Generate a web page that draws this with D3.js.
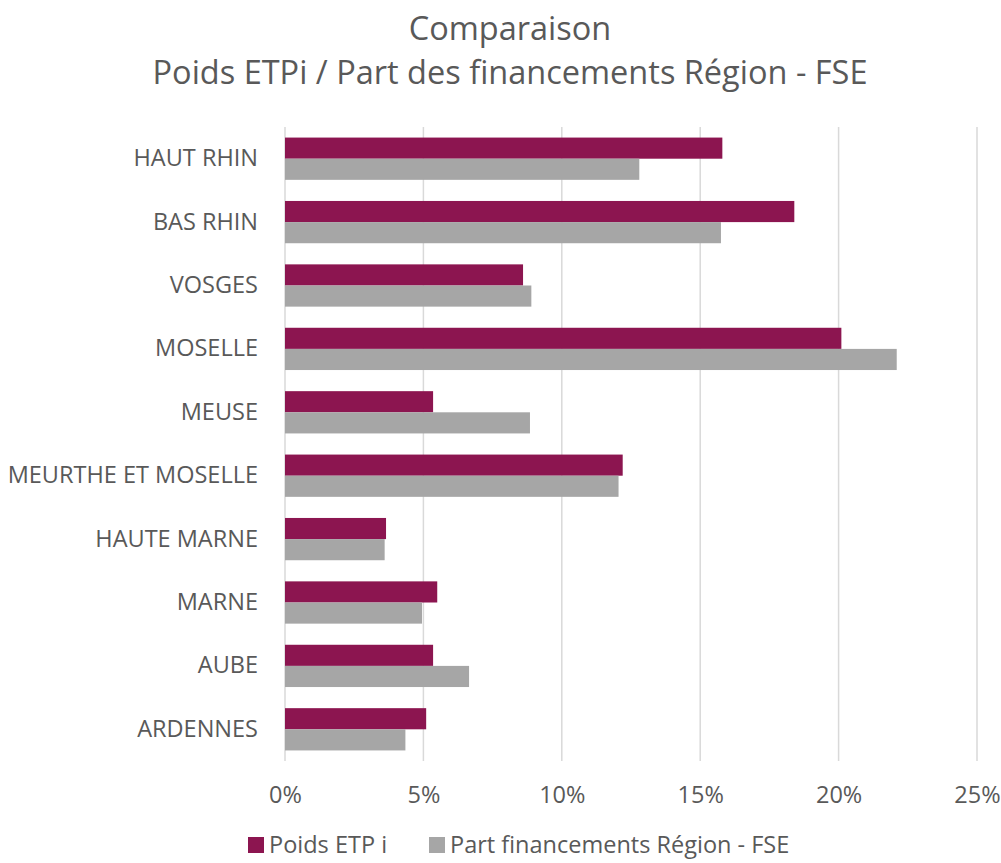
<!DOCTYPE html>
<html>
<head>
<meta charset="utf-8">
<script src="https://cdn.jsdelivr.net/npm/d3@7"></script>
<style>
  body { margin: 0; background: #fff; }
  text { font-family: "Open Sans", sans-serif; fill: #595959; }
</style>
</head>
<body>
<div id="chart"></div>
<script>
// data (percent)
var departements = ["HAUT RHIN", "BAS RHIN", "VOSGES", "MOSELLE", "MEUSE",
    "MEURTHE ET MOSELLE", "HAUTE MARNE", "MARNE", "AUBE", "ARDENNES"];
var poidsEtp = [15.8, 18.4, 8.6, 20.1, 5.35, 12.2, 3.65, 5.5, 5.35, 5.1];
var partFinancements = [12.8, 15.75, 8.9, 22.1, 8.85, 12.05, 3.6, 4.95, 6.65, 4.35];
var seriesNames = ["Poids ETP i", "Part financements Région - FSE"];
var seriesColors = ["#8C1550", "#A6A6A6"];
var xTicks = [0, 5, 10, 15, 20, 25];

var W = 1001, H = 863;
var margin = {top: 127, right: 1001 - 977, bottom: 863 - 761, left: 285};
var width = W - margin.left - margin.right,
    height = H - margin.top - margin.bottom;
var fontSize = "23.5px";

var svgRoot = d3.select("#chart").append("svg")
    .attr("width", W)
    .attr("height", H);

// title
svgRoot.append("text")
    .attr("x", 510).attr("y", 40)
    .attr("text-anchor", "middle")
    .style("font-size", "32.5px")
    .text("Comparaison");
svgRoot.append("text")
    .attr("x", 510).attr("y", 84)
    .attr("text-anchor", "middle")
    .style("font-size", "32.5px")
    .text("Poids ETPi / Part des financements Région - FSE");

var svg = svgRoot.append("g")
    .attr("transform", "translate(" + margin.left + "," + margin.top + ")");

var x = d3.scaleLinear().domain([0, 25]).range([0, width]);
var y = d3.scaleBand().domain(departements).range([0, height])
    .paddingInner(1/3).paddingOuter(1/6);
var ySub = d3.scaleBand().domain([0, 1]).range([0, y.bandwidth()]);

// gridlines
svg.append("g")
    .selectAll("line")
    .data(xTicks)
    .join("line")
        .attr("x1", d => x(d)).attr("x2", d => x(d))
        .attr("y1", 0).attr("y2", height)
        .attr("stroke", "#D9D9D9")
        .attr("stroke-width", 1.5);

// x axis labels
var xAxis = svg.append("g")
    .attr("transform", "translate(0," + height + ")")
    .call(d3.axisBottom(x).tickValues(xTicks).tickSize(0).tickPadding(25)
        .tickFormat(d => d + "%"));
xAxis.select(".domain").remove();
xAxis.selectAll("text").style("font-size", fontSize).style("fill", "#595959")
    .style("font-family", "'Open Sans', sans-serif");

// y axis labels
var yAxis = svg.append("g")
    .call(d3.axisLeft(y).tickSize(0).tickPadding(27));
yAxis.select(".domain").remove();
yAxis.selectAll("text").style("font-size", fontSize).style("fill", "#595959")
    .style("font-family", "'Open Sans', sans-serif");

// bars
var rows = departements.map((d, i) => ({dep: d, vals: [poidsEtp[i], partFinancements[i]]}));
var groups = svg.selectAll(".dep")
    .data(rows)
    .join("g")
        .attr("class", "dep")
        .attr("transform", d => "translate(0," + y(d.dep) + ")");
groups.selectAll("rect")
    .data(d => d.vals.map((v, k) => ({k: k, v: v})))
    .join("rect")
        .attr("x", x(0))
        .attr("y", d => ySub(d.k))
        .attr("width", d => x(d.v) - x(0))
        .attr("height", ySub.bandwidth())
        .attr("fill", d => seriesColors[d.k]);

// legend
var legend = svgRoot.append("g").attr("transform", "translate(248,845)");
var legX = [0, 181];
seriesNames.forEach(function(name, i) {
    var g = legend.append("g").attr("transform", "translate(" + legX[i] + ",0)");
    g.append("rect")
        .attr("x", 0).attr("y", -8)
        .attr("width", 16).attr("height", 16)
        .attr("fill", seriesColors[i]);
    g.append("text")
        .attr("x", 21).attr("y", 0)
        .attr("dy", "0.35em")
        .style("font-size", fontSize)
        .text(name);
});
</script>
</body>
</html>
